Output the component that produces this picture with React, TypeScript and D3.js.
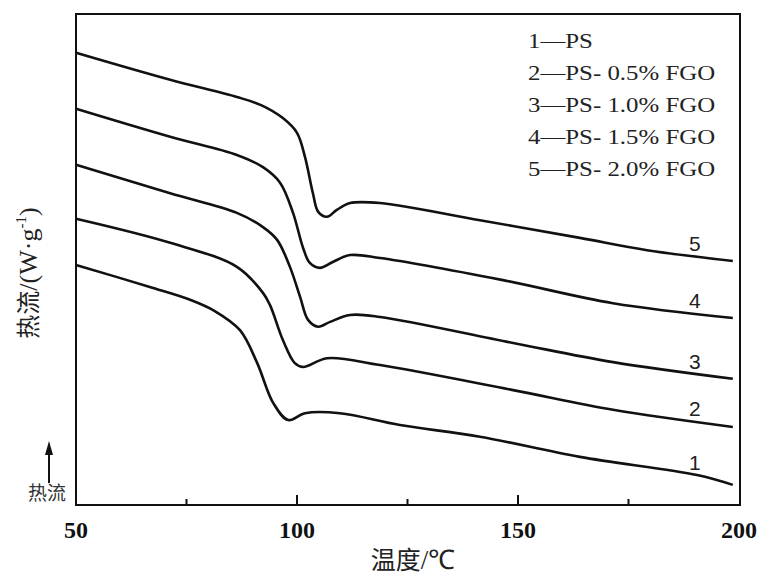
import { scaleLinear, line, curveCatmullRom } from "d3";

const width = 762;
const height = 577;

// heat flow in arbitrary units (no y scale shown in the figure)
const ps = [
  [50, 48.9], [66.7, 44.4], [75.8, 41.8], [81.4, 39.5], [87.1, 35.6], [91.0, 28.9],
  [94.6, 20.8], [98.0, 17.3], [101.8, 18.7], [109.7, 18.7], [123.3, 16.3],
  [141.4, 13.9], [164.0, 9.8], [190.5, 6.1], [198.6, 4.1],
];
const ps05 = [
  [50, 58.3], [71.3, 53.4], [86.4, 48.5], [92.3, 43.2], [93.9, 40.7],
  [96.8, 33.6], [99.5, 28.9], [101.4, 28.1], [106.8, 29.9], [118.8, 28.5],
  [148.9, 23.4], [171.5, 19.4], [198.6, 15.9],
];
const ps10 = [
  [50, 69.3], [71.3, 63.5], [86.4, 59.5], [92.3, 56.6], [95.5, 54.0],
  [98.4, 48.5], [100.7, 42.4], [102.5, 37.7], [104.8, 36.3], [107.5, 37.3],
  [112.0, 38.7], [118.8, 38.3], [148.9, 33.0], [171.5, 29.1], [198.6, 25.7],
];
const ps15 = [
  [50, 80.7], [71.3, 75.0], [86.4, 71.3], [92.3, 68.8], [96.2, 65.6],
  [99.1, 59.5], [101.4, 52.3], [102.9, 49.3], [105.2, 48.3], [108.1, 49.5],
  [112.0, 50.9], [118.8, 50.3], [146.6, 45.8], [171.5, 41.1], [198.6, 38.1],
];
const ps20 = [
  [50, 92.1], [71.3, 86.6], [86.4, 83.1], [92.0, 81.4], [96.8, 78.8], [100.0, 75.8],
  [101.8, 70.9], [103.6, 63.5], [104.8, 59.7], [106.8, 58.7], [109.0, 60.1],
  [112.0, 61.5], [118.8, 61.5], [141.4, 58.0], [164.0, 54.4], [179.2, 51.9],
  [198.6, 49.7],
];

const curves = [ps, ps05, ps10, ps15, ps20];
const curveLabels = ["1", "2", "3", "4", "5"];
const legendLabels = [
  "1\u2014PS",
  "2\u2014PS- 0.5% FGO",
  "3\u2014PS- 1.0% FGO",
  "4\u2014PS- 1.5% FGO",
  "5\u2014PS- 2.0% FGO",
];
const majorTicks = [50, 100, 150, 200];
const minorTicks = [75, 125, 175];

const left = 76;
const right = 739;
const top = 14;
const bottom = 505;

const x = scaleLinear().domain([50, 200]).range([left, right]);
const y = scaleLinear().domain([0, 100]).range([bottom, top]);

const path = line<number[]>()
  .x((d) => x(d[0]))
  .y((d) => y(d[1]))
  .curve(curveCatmullRom.alpha(0.5));

// value of a curve at temperature t (linear between read points)
const valueAt = (c: number[][], t: number) => {
  for (let i = 1; i < c.length; i++) {
    if (c[i][0] >= t) {
      const a = c[i - 1];
      const b = c[i];
      return a[1] + ((b[1] - a[1]) * (t - a[0])) / (b[0] - a[0]);
    }
  }
  return c[c.length - 1][1];
};

const serif = "'Liberation Serif', 'Times New Roman', serif";
const cjk = "'Noto Sans CJK SC', sans-serif";

const App = () => {
  return (
    <svg
      width={width}
      height={height}
      style={{ position: "absolute", left: 0, top: 0, background: "#fff" }}
    >
      <rect x={0} y={0} width={width} height={height} fill="#fff" />

      {curves.map((c, i) => (
        <path key={i} d={path(c) || ""} fill="none" stroke="#111" strokeWidth={2.6} />
      ))}

      {curves.map((c, i) => (
        <text
          key={i}
          x={x(190)}
          y={y(valueAt(c, 190)) - 5}
          textAnchor="middle"
          fontFamily="'Liberation Sans', Arial, sans-serif"
          fontSize={21}
          fill="#222"
        >
          {curveLabels[i]}
        </text>
      ))}

      {/* frame */}
      <rect
        x={left}
        y={top}
        width={x(200) - left + 1}
        height={bottom - top}
        fill="none"
        stroke="#111"
        strokeWidth={2}
      />

      {majorTicks.slice(1, -1).map((t) => (
        <line key={t} x1={x(t)} x2={x(t)} y1={bottom} y2={bottom - 10} stroke="#111" strokeWidth={2} />
      ))}
      {minorTicks.map((t) => (
        <line key={t} x1={x(t)} x2={x(t)} y1={bottom} y2={bottom - 6} stroke="#111" strokeWidth={2} />
      ))}
      {majorTicks.map((t) => (
        <text
          key={t}
          x={x(t)}
          y={538}
          textAnchor="middle"
          fontFamily={serif}
          fontWeight="bold"
          fontSize={24}
          fill="#111"
        >
          {t}
        </text>
      ))}

      {/* legend */}
      <g transform="translate(528,0) scale(1.13,1)">
        {legendLabels.map((l, i) => (
          <text key={l} x={0} y={48 + i * 32} fontFamily={serif} fontSize={22} fill="#222">
            {l}
          </text>
        ))}
      </g>

      {/* axis titles */}
      <text x={413} y={569} textAnchor="middle" fontSize={25} fill="#222">
        <tspan fontFamily={cjk}>温度</tspan>
        <tspan fontFamily={serif} fontSize={27}>/℃</tspan>
      </text>
      <text
        transform="translate(37,273) rotate(-90)"
        textAnchor="middle"
        fontSize={24}
        fill="#222"
      >
        <tspan fontFamily={cjk}>热流</tspan>
        <tspan fontFamily={serif} fontSize={26}>/(W·g</tspan>
        <tspan fontFamily={serif} fontSize={15} dy={-11}>-1</tspan>
        <tspan fontFamily={serif} fontSize={26} dy={11}>)</tspan>
      </text>

      {/* heat flow direction marker */}
      <line x1={49} x2={49} y1={483} y2={452} stroke="#111" strokeWidth={2} />
      <path d="M49,441 L45,455 L53,455 Z" fill="#111" />
      <text x={47} y={500} textAnchor="middle" fontFamily={cjk} fontSize={19} fill="#333">
        热流
      </text>
    </svg>
  );
};

export default App;
